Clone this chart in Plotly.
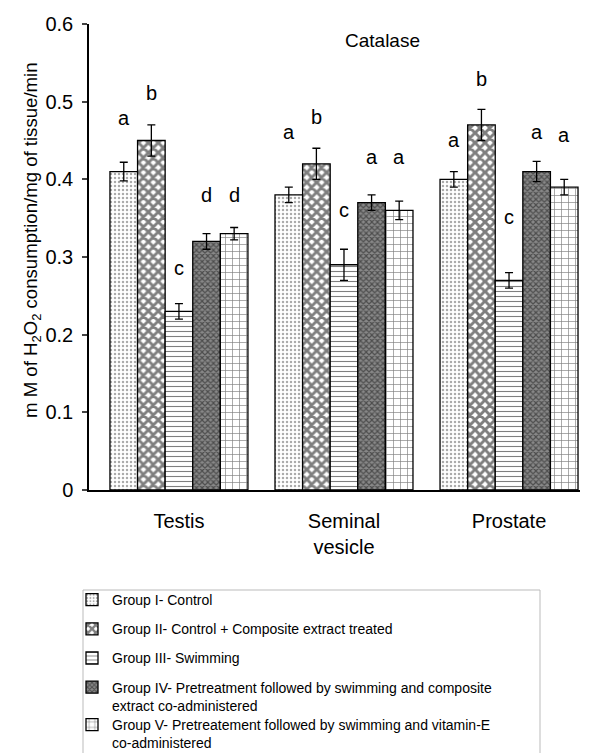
import plotly.graph_objects as go

categories = ["Testis", "Seminal<br>vesicle", "Prostate"]
groups = [
    "Group I- Control",
    "Group II- Control + Composite extract treated",
    "Group III- Swimming",
    "Group IV- Pretreatment followed by swimming and composite<br>extract co-administered",
    "Group V- Pretreatement followed by swimming and vitamin-E<br>co-administered",
]
values = [
    [0.41, 0.38, 0.40],
    [0.45, 0.42, 0.47],
    [0.23, 0.29, 0.27],
    [0.32, 0.37, 0.41],
    [0.33, 0.36, 0.39],
]
errors = [
    [0.012, 0.010, 0.010],
    [0.020, 0.020, 0.020],
    [0.010, 0.020, 0.010],
    [0.010, 0.010, 0.013],
    [0.008, 0.012, 0.010],
]
letters = [
    ["a", "a", "a"],
    ["b", "b", "b"],
    ["c", "c", "c"],
    ["d", "a", "a"],
    ["d", "a", "a"],
]
letter_heights = [
    [0.479, 0.461, 0.451],
    [0.511, 0.480, 0.529],
    [0.286, 0.360, 0.351],
    [0.380, 0.429, 0.461],
    [0.380, 0.429, 0.457],
]
y_ticks = [0, 0.1, 0.2, 0.3, 0.4, 0.5, 0.6]
y_ticktext = ["0", "0.1", "0.2", "0.3", "0.4", "0.5", "0.6"]
y_title = "m M of H<sub>2</sub>O<sub>2</sub> consumption/mg of tissue/min"

patterns = [
    dict(shape=".", size=4, solidity=0.3, fgcolor="#555555", bgcolor="white"),
    dict(shape="x", size=7, solidity=0.66, fgcolor="black", bgcolor="white"),
    dict(shape="-", size=5, solidity=0.22, fgcolor="black", bgcolor="white"),
    dict(shape="x", size=4, solidity=0.5, fgcolor="#111111", bgcolor="#888888"),
    dict(shape="+", size=7, solidity=0.18, fgcolor="black", bgcolor="white"),
]

# reference-pixel geometry of the plot area (page body has an 8px margin)
PX_L, PX_R, PX_T, PX_B = 89, 580, 24, 490
W, H = 597, 753


def px_x(p):
    return (p - PX_L) / (PX_R - PX_L)


def px_y(p):
    return (PX_B - p) / (PX_B - PX_T)


bargap = 0.164
fig = go.Figure()
for i, g in enumerate(groups):
    fig.add_trace(go.Bar(
        name=g, x=categories, y=values[i],
        marker=dict(color="white", line=dict(color="black", width=1.3), pattern=patterns[i]),
        error_y=dict(type="data", array=errors[i], color="black", thickness=1.3, width=4),
        legendgroup=str(i),
        legend="legend2" if i == 4 else "legend",
    ))

ann = []
n = len(groups)
bw = (1 - bargap) / n
for i in range(n):
    for j in range(len(categories)):
        ann.append(dict(x=j + (i - (n - 1) / 2) * bw, y=letter_heights[i][j], xref="x", yref="y",
                        text=letters[i][j], showarrow=False, yanchor="middle",
                        font=dict(size=20, color="black", family="Arial")))
ann.append(dict(x=px_x(382), y=px_y(40), xref="paper", yref="paper", text="Catalase",
                showarrow=False, xanchor="center", yanchor="middle",
                font=dict(size=19, color="black", family="Arial")))
ann.append(dict(x=px_x(32), y=px_y(240), xref="paper", yref="paper", text=y_title,
                showarrow=False, xanchor="center", yanchor="middle", textangle=-90,
                font=dict(size=18.6, color="black", family="Arial")))

legend_common = dict(xanchor="left", yanchor="top", borderwidth=0, bgcolor="rgba(0,0,0,0)",
                     font=dict(size=14), valign="top", tracegroupgap=8,
                     traceorder="grouped", itemwidth=30)

fig.update_layout(
    width=W, height=H,
    paper_bgcolor="white", plot_bgcolor="white",
    barmode="group", bargap=bargap, bargroupgap=0,
    margin=dict(l=PX_L - 8, r=W - PX_R + 8, t=PX_T - 8, b=H - PX_B + 8, autoexpand=False),
    font=dict(family="Arial", color="black"),
    xaxis=dict(type="category", range=[-0.545, 2.43], showline=True, linecolor="black", linewidth=1.5,
               ticks="", tickfont=dict(size=20), showgrid=False, zeroline=False, tickangle=0,
               ticklabelstandoff=12),
    yaxis=dict(range=[0, 0.6], tickvals=y_ticks, ticktext=y_ticktext, showline=True,
               linecolor="black", linewidth=1.5, ticks="outside", ticklen=5, tickwidth=1.5,
               tickfont=dict(size=20), showgrid=False, zeroline=False, ticklabelstandoff=5),
    legend=dict(x=px_x(72), y=px_y(584), **legend_common),
    legend2=dict(x=px_x(72), y=px_y(709), **legend_common),
    shapes=[dict(type="rect", xref="paper", yref="paper",
                 x0=px_x(83), x1=px_x(540), y0=px_y(590), y1=px_y(800),
                 line=dict(color="#bbbbbb", width=1), fillcolor="rgba(0,0,0,0)")],
    annotations=ann,
    showlegend=True,
)
fig.write_html("out.html")
